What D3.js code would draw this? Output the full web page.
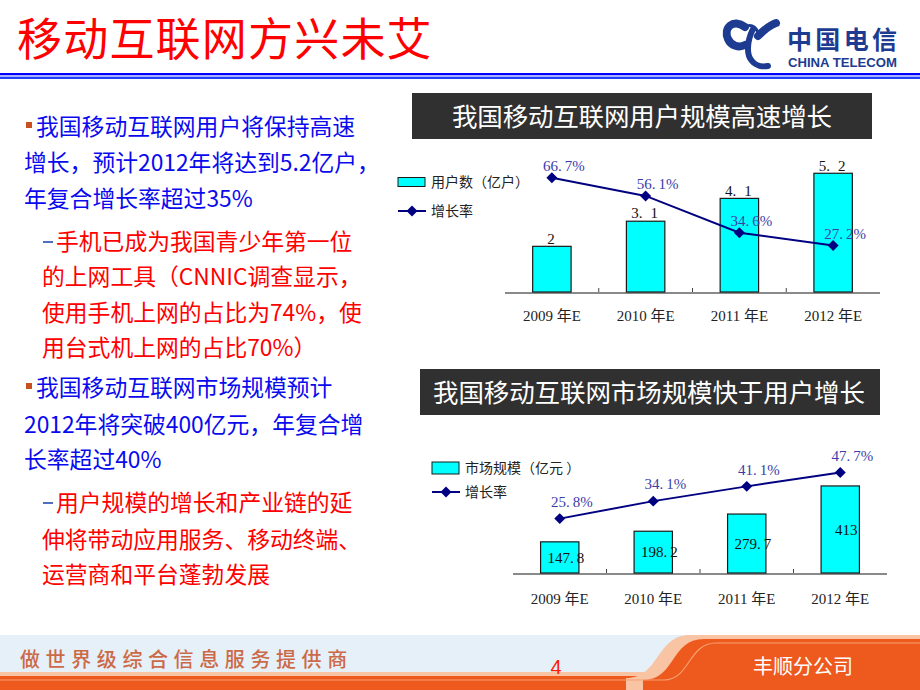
<!DOCTYPE html>
<html><head><meta charset="utf-8">
<script src="https://cdn.jsdelivr.net/npm/d3@7"></script>
<style>body{margin:0;background:#fff}svg{display:block}</style>
</head><body><svg id="c" width="920" height="690"></svg>
<script>
// ---------- data ----------
const categories = ["2009 年E", "2010 年E", "2011 年E", "2012 年E"];
const userCounts = [2, 3.1, 4.1, 5.2];          // 用户数（亿户）
const userGrowth = [66.7, 56.1, 34.6, 27.2];    // 增长率 %
const marketSize = [147.8, 198.2, 279.7, 413];  // 市场规模（亿元）
const marketGrowth = [25.8, 34.1, 41.1, 47.7];  // 增长率 %
const chart1Title = "我国移动互联网用户规模高速增长";
const chart2Title = "我国移动互联网市场规模快于用户增长";
const legend1 = ["用户数（亿户）", "增长率"];
const legend2 = ["市场规模（亿元 ）", "增长率"];
const pageTitle = "移动互联网方兴未艾";
const bullet1 = ["我国移动互联网用户将保持高速", "增长，预计2012年将达到5.2亿户，", "年复合增长率超过35%"];
const sub1 = ["手机已成为我国青少年第一位", "的上网工具（CNNIC调查显示，", "使用手机上网的占比为74%，使", "用台式机上网的占比70%）"];
const bullet2 = ["我国移动互联网市场规模预计", "2012年将突破400亿元，年复合增", "长率超过40%"];
const sub2 = ["用户规模的增长和产业链的延", "伸将带动应用服务、移动终端、", "运营商和平台蓬勃发展"];
const footerSlogan = "做世界级综合信息服务提供商";
const pageNumber = "4";
const branchName = "丰顺分公司";

const svg = d3.select("#c");
const CJK = "'Noto Sans CJK SC','Noto Sans',sans-serif";
const SERIF = "'Liberation Serif','Noto Sans CJK SC',serif";

// ---------- page header ----------
svg.append("text").attr("x", 17).attr("y", 39).attr("dy", "0.37em")
  .attr("font-family", CJK).attr("font-size", 45).attr("letter-spacing", 1.2).attr("fill", "#ff0000")
  .text(pageTitle);
svg.append("rect").attr("x", 0).attr("y", 73).attr("width", 920).attr("height", 2.4).attr("fill", "#0000ff");
svg.append("rect").attr("x", 0).attr("y", 75.4).attr("width", 920).attr("height", 1.4).attr("fill", "#b8c4ff");
svg.append("rect").attr("x", 0).attr("y", 76.8).attr("width", 920).attr("height", 2.2).attr("fill", "#2040ff");

// logo
const logo = svg.append("g").attr("fill", "none").attr("stroke", "#1d3c91").attr("stroke-linecap", "round");
logo.append("path").attr("d", "M745,27 C733,18 723,28 728,39 C731,46 739,48 745,45").attr("stroke-width", 8);
logo.append("path").attr("d", "M758,36 C764,30 770,25 776,23").attr("stroke-width", 8);
logo.append("path").attr("d", "M745,27 C750,24 756,26 758,33").attr("stroke-width", 3);
logo.append("path").attr("d", "M753,29 C747,41 746,55 752,61 C756,66 763,67 768,66").attr("stroke-width", 6);
svg.append("text").attr("x", 787).attr("y", 49).attr("font-family", CJK).attr("font-weight", 700)
  .attr("font-size", 25).attr("fill", "#1d3c91").attr("textLength", 110).attr("lengthAdjust", "spacing").text("中国电信");
svg.append("text").attr("x", 788).attr("y", 66.5).attr("font-family", "'Liberation Sans',Arial,sans-serif").attr("font-weight", 700)
  .attr("font-size", 12).attr("fill", "#1d3c91").attr("textLength", 109).attr("lengthAdjust", "spacingAndGlyphs").text("CHINA TELECOM");

// ---------- left text ----------
function block(lines, color, y0, firstX, otherX, marker) {
  const g = svg.append("g");
  lines.forEach((t, i) => {
    g.append("text").attr("x", i === 0 ? firstX : otherX).attr("y", y0[i]).attr("dy", "0.37em")
      .attr("font-family", CJK).attr("font-size", 22.8).attr("fill", color).text(t);
  });
  if (marker === "square") {
    g.append("rect").attr("x", 26).attr("y", y0[0] - 5).attr("width", 6).attr("height", 6).attr("fill", "#c8501e");
  } else {
    g.append("rect").attr("x", 43).attr("y", y0[0] - 1).attr("width", 10).attr("height", 2).attr("fill", "#4f6fc0");
  }
}
block(bullet1, "#0a0aee", [127, 163, 199], 36, 24, "square");
block(sub1, "#ff0000", [242, 277, 313, 348], 56, 42, "dash");
block(bullet2, "#0a0aee", [388, 425, 460], 36, 24, "square");
block(sub2, "#ff0000", [503, 540, 575], 56, 42, "dash");

// number label with a wide gap after the decimal point (SimSun look)
function numLabel(parent, str, cx, cy, color, gap) {
  const t = parent.append("text").attr("x", cx).attr("y", cy).attr("dy", "0.35em").attr("text-anchor", "middle")
    .attr("font-family", SERIF).attr("font-size", 15).attr("fill", color);
  const k = str.indexOf(".");
  if (k < 0) { t.text(str); return; }
  t.append("tspan").text(str.slice(0, k + 1));
  t.append("tspan").attr("dx", gap).text(str.slice(k + 1));
}

// ---------- charts ----------
function drawChart(cfg) {
  const g = svg.append("g");
  g.append("rect").attr("x", cfg.head[0]).attr("y", cfg.head[1]).attr("width", cfg.head[2]).attr("height", cfg.head[3])
    .attr("fill", "#303030");
  g.append("text").attr("x", cfg.head[0] + cfg.headText[0]).attr("y", cfg.head[1] + cfg.head[3] / 2 + 1).attr("dy", "0.37em")
    .attr("font-family", CJK).attr("font-size", 25.5).attr("textLength", cfg.headText[1]).attr("lengthAdjust", "spacing")
    .attr("fill", "#ffffff").text(cfg.title);

  const x = d3.scaleBand().domain(categories).range(cfg.xr).paddingInner(0.59).paddingOuter(0.295);
  const yb = d3.scaleLinear().domain([0, cfg.barMax]).range([cfg.base, cfg.top]);
  const yl = d3.scaleLinear().domain([0, cfg.lineMax]).range([cfg.base, cfg.top]);
  const cx = c => x(c) + x.bandwidth() / 2;

  g.append("line").attr("x1", cfg.xr[0]).attr("x2", cfg.xr[1]).attr("y1", cfg.base + 1).attr("y2", cfg.base + 1)
    .attr("stroke", "#8a8a8a").attr("stroke-width", 2);
  categories.slice(1).forEach((c, i) => {
    const bx = cfg.xr[0] + (i + 1) * x.step();
    g.append("line").attr("x1", bx).attr("x2", bx).attr("y1", cfg.base).attr("y2", cfg.base - 4)
      .attr("stroke", "#444").attr("stroke-width", 1);
  });
  const ax = g.append("g").attr("transform", `translate(0,${cfg.base})`)
    .call(d3.axisBottom(x).tickSize(0).tickPadding(cfg.tickPad));
  ax.select(".domain").remove();
  ax.selectAll("text").attr("font-family", SERIF).attr("font-size", 15).attr("fill", "#222");

  g.selectAll(".bar").data(cfg.bars).join("rect")
    .attr("x", (d, i) => x(categories[i])).attr("width", x.bandwidth())
    .attr("y", d => yb(d)).attr("height", d => cfg.base - yb(d))
    .attr("fill", "#00ffff").attr("stroke", "#1a1a1a").attr("stroke-width", 1.2);

  cfg.bars.forEach((d, i) => {
    const yy = cfg.barLabelInside ? (yb(d) + cfg.base) / 2 : yb(d) - 8;
    numLabel(g, String(d), cx(categories[i]) + cfg.barLabelDx, yy, "#111", cfg.barGap);
  });

  const line = d3.line().x((d, i) => cx(categories[i])).y(d => yl(d));
  g.append("path").datum(cfg.line).attr("d", line).attr("fill", "none")
    .attr("stroke", "#000080").attr("stroke-width", 2);
  g.selectAll(".mk").data(cfg.line).join("path")
    .attr("d", d3.symbol(d3.symbolSquare, 60))
    .attr("transform", (d, i) => `translate(${cx(categories[i])},${yl(d)}) rotate(45)`)
    .attr("fill", "#000080");
  cfg.line.forEach((d, i) => {
    numLabel(g, d3.format(".1f")(d) + "%", cx(categories[i]) + cfg.lineLabel[0], yl(d) + cfg.lineLabel[1], "#3c3ca8", 3);
  });

  const L = cfg.legend;
  g.append("rect").attr("x", L.x).attr("y", L.y1 - L.bh / 2).attr("width", 27).attr("height", L.bh)
    .attr("fill", "#00ffff").attr("stroke", "#1a1a1a").attr("stroke-width", 1);
  g.append("text").attr("x", L.tx).attr("y", L.y1).attr("dy", "0.37em").attr("font-family", CJK)
    .attr("font-size", 14).attr("fill", "#222").text(L.labels[0]);
  g.append("line").attr("x1", L.x).attr("x2", L.x + 28).attr("y1", L.y2).attr("y2", L.y2)
    .attr("stroke", "#000080").attr("stroke-width", 2);
  g.append("path").attr("d", d3.symbol(d3.symbolSquare, 60))
    .attr("transform", `translate(${L.x + 14},${L.y2}) rotate(45)`).attr("fill", "#000080");
  g.append("text").attr("x", L.tx).attr("y", L.y2).attr("dy", "0.37em").attr("font-family", CJK)
    .attr("font-size", 14).attr("fill", "#222").text(L.labels[1]);
}

drawChart({
  title: chart1Title, head: [412, 93, 460, 46], headText: [40, 380],
  xr: [505, 880], base: 292, top: 155, barMax: 6, lineMax: 80,
  bars: userCounts, line: userGrowth, tickPad: 18,
  barLabelInside: false, barGap: 8, barLabelDx: -1, lineLabel: [12, -12],
  legend: { x: 398, tx: 431, y1: 182, y2: 211, bh: 9, labels: legend1 }
});
drawChart({
  title: chart2Title, head: [420, 369, 460, 46], headText: [13, 432],
  xr: [513, 887], base: 573, top: 436, barMax: 650, lineMax: 65,
  bars: marketSize, line: marketGrowth, tickPad: 20,
  barLabelInside: true, barGap: 3, barLabelDx: 6, lineLabel: [12, -17],
  legend: { x: 432, tx: 465, y1: 468, y2: 492, bh: 12, labels: legend2 }
});

// ---------- footer ----------
svg.append("rect").attr("x", 0).attr("y", 635).attr("width", 920).attr("height", 40).attr("fill", "#e5f0f8");
svg.append("rect").attr("x", 0).attr("y", 672).attr("width", 920).attr("height", 4).attr("fill", "#f8c4a4");
svg.append("rect").attr("x", 0).attr("y", 676).attr("width", 920).attr("height", 14).attr("fill", "#ee5a1e");
svg.append("path").attr("d", "M626,678 C660,678 656,635 690,635 L920,635 L920,690 L626,690 Z").attr("fill", "#f8c4a4");
svg.append("path").attr("d", "M643,680 C676,680 670,639 704,639 L920,639 L920,690 L643,690 Z").attr("fill", "#ee5a1e");
svg.append("path").attr("d", "M0,680 L664,680 C690,680 688,643 716,643 L920,643").attr("fill", "none")
  .attr("stroke", "#f7a070").attr("stroke-width", 1.2);
svg.append("text").attr("x", 20).attr("y", 660).attr("dy", "0.37em").attr("font-family", CJK)
  .attr("font-size", 20).attr("font-weight", 500).attr("letter-spacing", 5.6).attr("fill", "#cc6a48").text(footerSlogan);
svg.append("text").attr("x", 556).attr("y", 667).attr("dy", "0.36em").attr("text-anchor", "middle")
  .attr("font-family", "'Liberation Sans',Arial,sans-serif").attr("font-size", 20).attr("fill", "#ff2000").text(pageNumber);
svg.append("text").attr("x", 753).attr("y", 667).attr("dy", "0.37em").attr("font-family", CJK)
  .attr("font-size", 20).attr("fill", "#ffffff").text(branchName);
</script></body></html>
